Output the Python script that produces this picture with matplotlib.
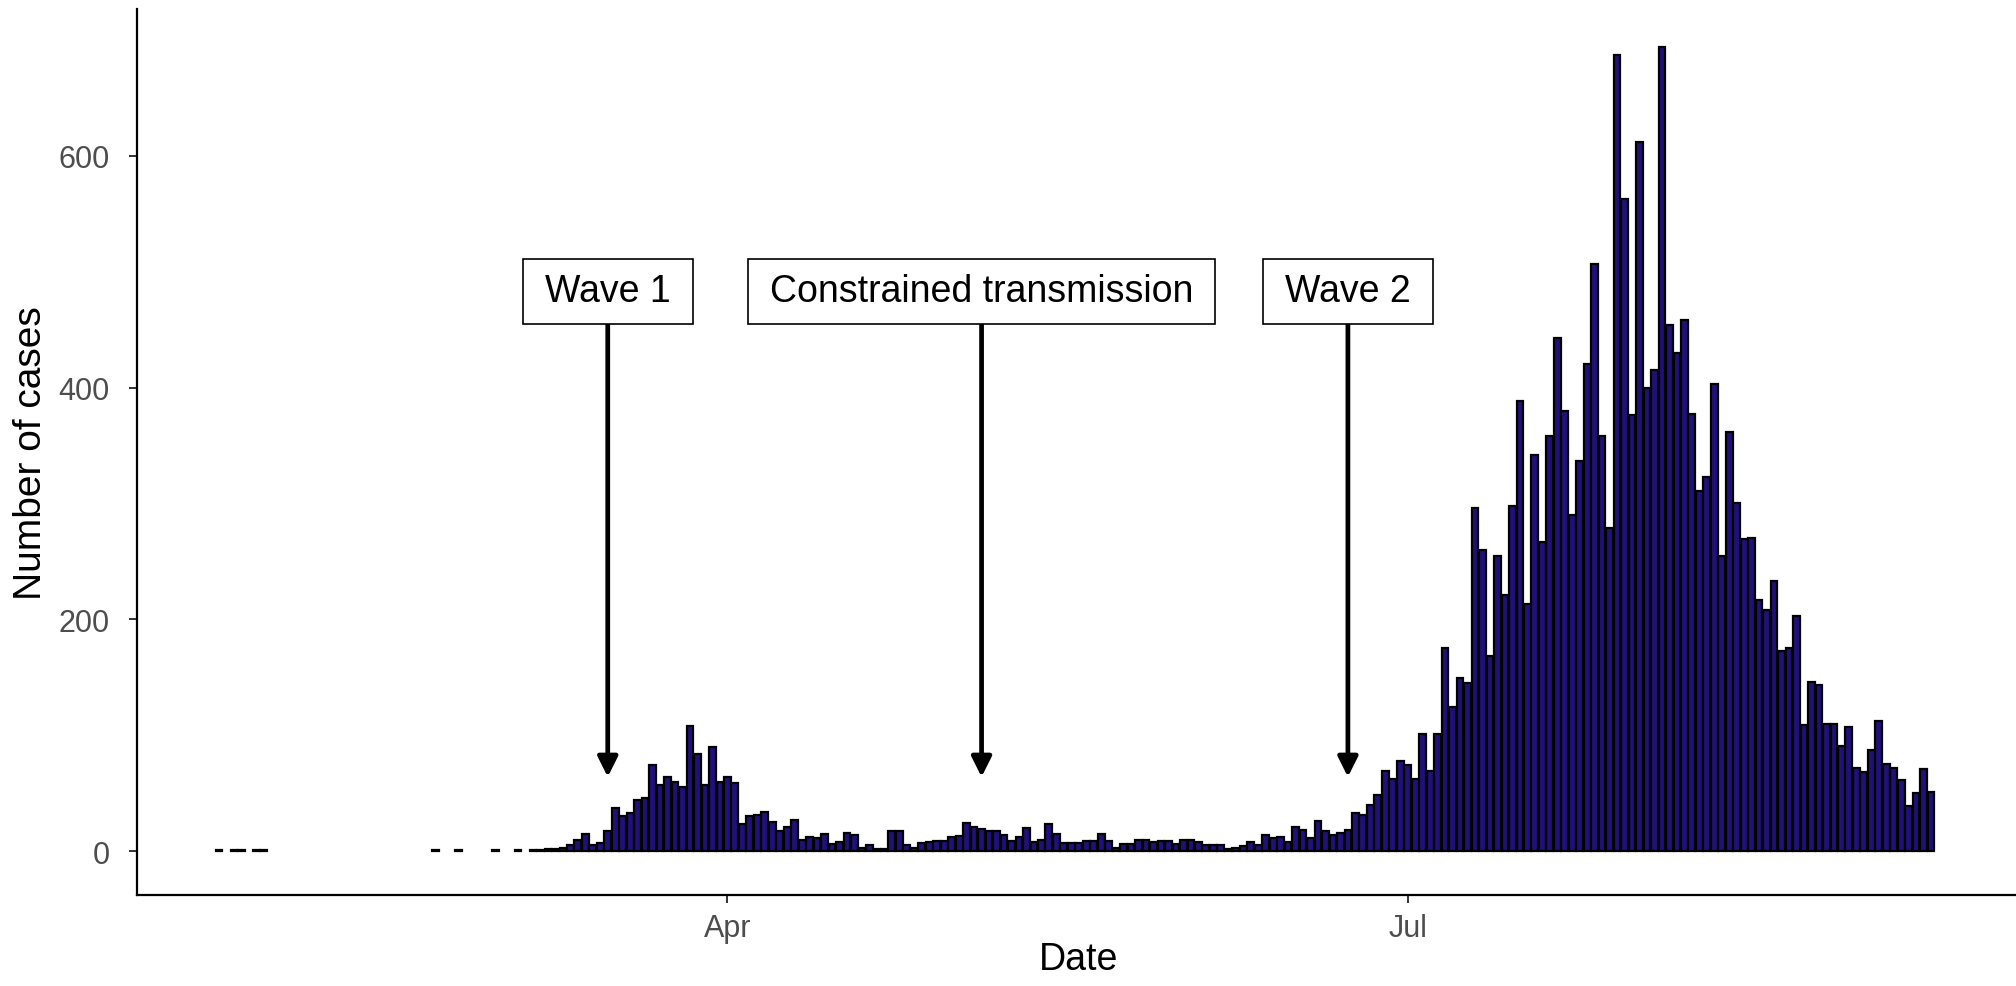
import matplotlib
matplotlib.use("Agg")
import matplotlib.pyplot as plt
import matplotlib.dates as mdates
from matplotlib.patches import Rectangle
import pandas as pd

# sporadic early cases (single cases, drawn as thin dashes)
early_dates = ["2020-01-24", "2020-01-26", "2020-01-27", "2020-01-29", "2020-01-30",
               "2020-02-22", "2020-02-25", "2020-03-01", "2020-03-04"]
early_cases = [1, 1, 1, 1, 1, 1, 1, 1, 1]

# continuous daily series from 6 March to 9 September
series_start = "2020-03-06"
daily_cases = [
    1, 1, 2, 2, 3, 5, 10, 15, 5, 7, 17, 37, 30, 33, 44, 46, 74, 57, 64,
    60, 55, 108, 84, 57, 90, 60, 64, 59, 23, 30, 31, 34, 25, 17, 21, 27, 10, 12, 11,
    15, 6, 8, 16, 14, 3, 5, 2, 2, 17, 17, 5, 3, 7, 8, 9, 9, 12, 13, 24,
    21, 19, 17, 17, 14, 9, 12, 20, 8, 10, 23, 15, 7, 7, 7, 9, 9, 15, 9, 3,
    6, 6, 10, 10, 8, 9, 9, 6, 10, 10, 8, 5, 5, 5, 2, 3, 4, 8, 5, 14,
    11, 12, 8, 21, 18, 11, 26, 17, 14, 16, 18, 33, 31, 40, 48, 69, 62, 78, 74, 62,
    101, 69, 101, 175, 124, 149, 145, 296, 260, 168, 255, 221, 298, 388, 213, 342, 267, 358, 443, 380,
    290, 337, 420, 507, 358, 279, 687, 563, 376, 612, 400, 415, 694, 454, 430, 458, 377, 311, 323, 403,
    255, 362, 300, 269, 270, 217, 208, 233, 173, 175, 203, 109, 146, 143, 110, 110, 91, 107, 72, 68,
    87, 112, 75, 72, 61, 39, 50, 71, 51,
]

# annotations
label_texts = ["Wave 1", "Constrained transmission", "Wave 2"]
label_dates = ["2020-03-16", "2020-05-05", "2020-06-23"]
label_y = 483
arrow_tip_y = 64

tick_dates = ["2020-04-01", "2020-07-01"]
y_ticks = [0, 200, 400, 600]

plt.rcParams['font.family'] = ['Liberation Sans', 'DejaVu Sans']

dates = list(pd.to_datetime(early_dates)) + list(pd.date_range(series_start, periods=len(daily_cases), freq="D"))
cases = early_cases + daily_cases

fig = plt.figure(figsize=(20.16, 9.87), dpi=100)
ax = fig.add_axes([0.0682, 0.0924, 0.9338, 0.8972])

ax.bar(dates, cases, width=0.9, color="#22107a", edgecolor="black", linewidth=1.6, zorder=2)

ax.set_xlim(pd.Timestamp("2020-04-01") - pd.Timedelta(days=78.9),
            pd.Timestamp("2020-04-01") + pd.Timedelta(days=172.9))
ax.set_ylim(-37.7, 726.4)

labels = []
for txt, d in zip(label_texts, label_dates):
    x = pd.Timestamp(d)
    ax.annotate("", xy=(x, arrow_tip_y), xytext=(x, label_y),
                arrowprops=dict(arrowstyle="-|>", mutation_scale=30, lw=3.4,
                                color="black", shrinkA=0, shrinkB=0), zorder=3)
    t = ax.text(x, label_y, txt, ha="center", va="center", fontsize=27, color="black", zorder=5)
    labels.append(t)

ax.set_xticks(pd.to_datetime(tick_dates))
ax.xaxis.set_major_formatter(mdates.DateFormatter("%b"))
ax.set_yticks(y_ticks)

for s in ["top", "right"]:
    ax.spines[s].set_visible(False)
for s in ["left", "bottom"]:
    ax.spines[s].set_linewidth(1.6)
    ax.spines[s].set_color("black")

ax.tick_params(axis="both", length=6, width=1.4, color="#333333",
               labelcolor="#4D4D4D", labelsize=22)
ax.tick_params(axis="x", pad=7)
ax.tick_params(axis="y", pad=14)

ax.set_xlabel("Date", fontsize=27, color="black")
ax.set_ylabel("Number of cases", fontsize=28, color="black")
ax.xaxis.set_label_coords(0.5, -0.052)
ax.yaxis.set_label_coords(-0.047, 0.5)

# white label boxes sized around the text (wider side padding like geom_label)
fig.canvas.draw()
renderer = fig.canvas.get_renderer()
inv = ax.transAxes.inverted()
for t in labels:
    bb = t.get_window_extent(renderer)
    cx = (bb.x0 + bb.x1) / 2
    cy = (bb.y0 + bb.y1) / 2
    w = bb.width + 2 * 22
    h = 65
    (x0, y0) = inv.transform((cx - w / 2, cy - h / 2))
    (x1, y1) = inv.transform((cx + w / 2, cy + h / 2))
    ax.add_patch(Rectangle((x0, y0), x1 - x0, y1 - y0, transform=ax.transAxes,
                           facecolor="white", edgecolor="black", linewidth=1.2, zorder=4))

fig.savefig("out.png", dpi=100)
